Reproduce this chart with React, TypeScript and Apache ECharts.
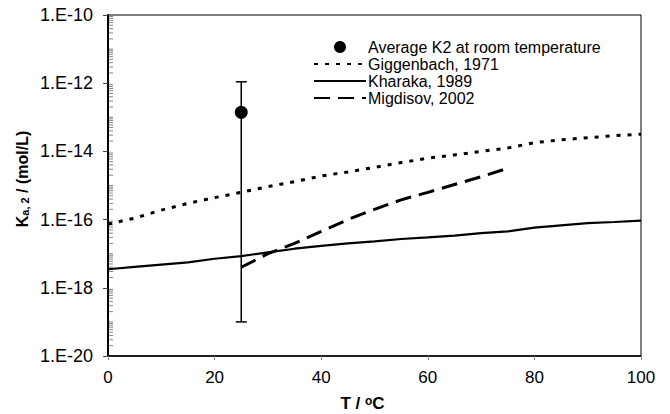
import React, { useEffect, useRef } from "react";
import * as echarts from "echarts";

const T_FULL = [0, 5, 10, 15, 20, 25, 30, 35, 40, 45, 50, 55, 60, 65, 70, 75, 80, 85, 90, 95, 100];
const GIGGENBACH = [7.4e-17, 1.1e-16, 1.9e-16, 3.0e-16, 4.4e-16, 6.3e-16, 9.3e-16, 1.3e-15, 1.9e-15, 2.5e-15, 3.4e-15, 4.7e-15, 6.3e-15, 7.9e-15, 1.0e-14, 1.26e-14, 1.8e-14, 2.2e-14, 2.5e-14, 2.9e-14, 3.2e-14];
const KHARAKA = [3.5e-18, 4.1e-18, 4.8e-18, 5.6e-18, 7.1e-18, 8.5e-18, 1.1e-17, 1.4e-17, 1.7e-17, 2.0e-17, 2.3e-17, 2.7e-17, 3.0e-17, 3.4e-17, 4.0e-17, 4.5e-17, 5.8e-17, 6.8e-17, 7.9e-17, 8.5e-17, 9.3e-17];
const T_MIGDISOV = [25, 30, 35, 40, 45, 50, 55, 60, 65, 70, 75];
const MIGDISOV = [4.0e-18, 1.0e-17, 2.0e-17, 4.5e-17, 1.0e-16, 2.0e-16, 3.8e-16, 6.3e-16, 1.07e-15, 1.8e-15, 3.2e-15];
const AVG_T = 25;
const AVG_K2 = 1.4e-13;
const AVG_K2_HIGH = 1.1e-12;
const AVG_K2_LOW = 1.0e-19;
const Y_DECADES = [-20, -19, -18, -17, -16, -15, -14, -13, -12, -11];
const MINOR_MULTS = [2, 3, 4, 5, 6, 7, 8, 9];
const ODD_DECADES = [1e-19, 1e-17, 1e-15, 1e-13, 1e-11];

const FONT = '"Liberation Sans", Arial, sans-serif';

export default function App() {
  const ref = useRef<HTMLDivElement>(null);
  useEffect(() => {
    if (!ref.current) return;
    const chart = echarts.init(ref.current, null, { renderer: "svg" });
    const minorData: number[][] = [];
    Y_DECADES.forEach((d) => MINOR_MULTS.forEach((m) => minorData.push([0, m * Math.pow(10, d)])));
    ODD_DECADES.forEach((v) => minorData.push([0, v]));

    const option: any = {
      animation: false,
      backgroundColor: "#fff",
      textStyle: { fontFamily: FONT },
      grid: {
        left: 108, right: 29, top: 15, bottom: 58,
        containLabel: false, outerBoundsMode: "none",
        show: true, borderColor: "#000", borderWidth: 1, backgroundColor: "transparent",
      },
      graphic: [
        {
          type: "text",
          x: 22,
          y: 179,
          rotation: Math.PI / 2,
          style: {
            text: "{b|K}{sub|a, 2}{b| / (mol/L)}",
            align: "center",
            verticalAlign: "middle",
            rich: {
              b: { fontSize: 16, fontWeight: "bold", fill: "#000", fontFamily: FONT },
              sub: { fontSize: 11, fontWeight: "bold", fill: "#000", fontFamily: FONT, verticalAlign: "bottom", padding: [5, 0, 0, 0] },
            },
          },
        },
      ],
      legend: {
        orient: "vertical",
        left: 308,
        top: 34,
        itemWidth: 52,
        itemHeight: 12,
        itemGap: 1,
        textStyle: { fontSize: 16, color: "#000", fontFamily: FONT, padding: [0, 0, 0, -3] },
        data: [
          { name: "Average K2 at room temperature", icon: "circle" },
          { name: "Giggenbach, 1971", icon: "inherit", itemStyle: { opacity: 0 } },
          { name: "Kharaka, 1989", icon: "inherit", itemStyle: { opacity: 0 } },
          { name: "Migdisov, 2002", icon: "inherit", itemStyle: { opacity: 0 } },
        ],
      },
      xAxis: {
        type: "value",
        min: 0,
        max: 100,
        interval: 20,
        name: "T / {sup|o}C",
        nameLocation: "middle",
        nameGap: 39,
        nameTextStyle: {
          fontSize: 17, fontWeight: "bold", color: "#000", fontFamily: FONT, padding: [0, 24, 0, 0],
          rich: { sup: { fontSize: 12, fontWeight: "bold", verticalAlign: "top", color: "#000", fontFamily: FONT } },
        },
        axisLine: { show: true, onZero: false, lineStyle: { color: "#000", width: 1.5 } },
        axisTick: { show: true, length: 4, lineStyle: { color: "#888" } },
        axisLabel: { fontSize: 17, color: "#000", margin: 13, fontFamily: FONT },
        splitLine: { show: false },
      },
      yAxis: {
        type: "log",
        logBase: 10,
        min: 1e-20,
        max: 1e-10,
        interval: 2,
        axisLine: { show: true, lineStyle: { color: "#000", width: 2 } },
        axisTick: { show: true, length: 5, lineStyle: { color: "#444" } },
        axisLabel: {
          fontSize: 18, color: "#000", margin: 15, fontFamily: FONT,
          formatter: (v: number) => "1.E" + Math.round(Math.log10(v)),
        },
        splitLine: { show: false },
        minorTick: { show: false },
      },
      series: [
        {
          type: "custom",
          name: "minorTicks",
          silent: true,
          data: minorData,
          clip: false,
          renderItem: (params: any, api: any) => {
            const p = api.coord([api.value(0), api.value(1)]);
            return {
              type: "line",
              shape: { x1: p[0] + 1, y1: p[1], x2: p[0] + 5, y2: p[1] },
              style: { stroke: "#888", lineWidth: 1 },
            };
          },
          z: 1,
        },
        {
          type: "custom",
          name: "errorbar",
          silent: true,
          data: [[AVG_T, AVG_K2_HIGH, AVG_K2_LOW]],
          renderItem: (params: any, api: any) => {
            const top = api.coord([api.value(0), api.value(1)]);
            const bot = api.coord([api.value(0), api.value(2)]);
            const hw = 5.5;
            const st = { stroke: "#000", lineWidth: 1.5 };
            return {
              type: "group",
              children: [
                { type: "line", shape: { x1: top[0], y1: top[1], x2: bot[0], y2: bot[1] }, style: st },
                { type: "line", shape: { x1: top[0] - hw, y1: top[1], x2: top[0] + hw, y2: top[1] }, style: st },
                { type: "line", shape: { x1: bot[0] - hw, y1: bot[1], x2: bot[0] + hw, y2: bot[1] }, style: st },
              ],
            };
          },
          z: 3,
        },
        {
          type: "scatter",
          name: "Average K2 at room temperature",
          data: [[AVG_T, AVG_K2]],
          symbol: "circle",
          symbolSize: 13,
          itemStyle: { color: "#000", opacity: 1 },
          z: 4,
        },
        {
          type: "line",
          name: "Giggenbach, 1971",
          data: T_FULL.map((t, i) => [t, GIGGENBACH[i]]),
          showSymbol: false,
          symbol: "none",
          lineStyle: { color: "#000", width: 3, type: [4, 7] },
          itemStyle: { color: "#000" },
        },
        {
          type: "line",
          name: "Kharaka, 1989",
          data: T_FULL.map((t, i) => [t, KHARAKA[i]]),
          showSymbol: false,
          symbol: "none",
          lineStyle: { color: "#000", width: 2.2, type: "solid" },
          itemStyle: { color: "#000" },
        },
        {
          type: "line",
          name: "Migdisov, 2002",
          data: T_MIGDISOV.map((t, i) => [t, MIGDISOV[i]]),
          showSymbol: false,
          symbol: "none",
          lineStyle: { color: "#000", width: 3, type: [16, 8] },
          itemStyle: { color: "#000" },
        },
      ],
    };
    chart.setOption(option);
    return () => chart.dispose();
  }, []);
  return (
    <div
      ref={ref}
      style={{ position: "fixed", left: 0, top: 0, width: 670, height: 414, background: "#fff" }}
    />
  );
}
